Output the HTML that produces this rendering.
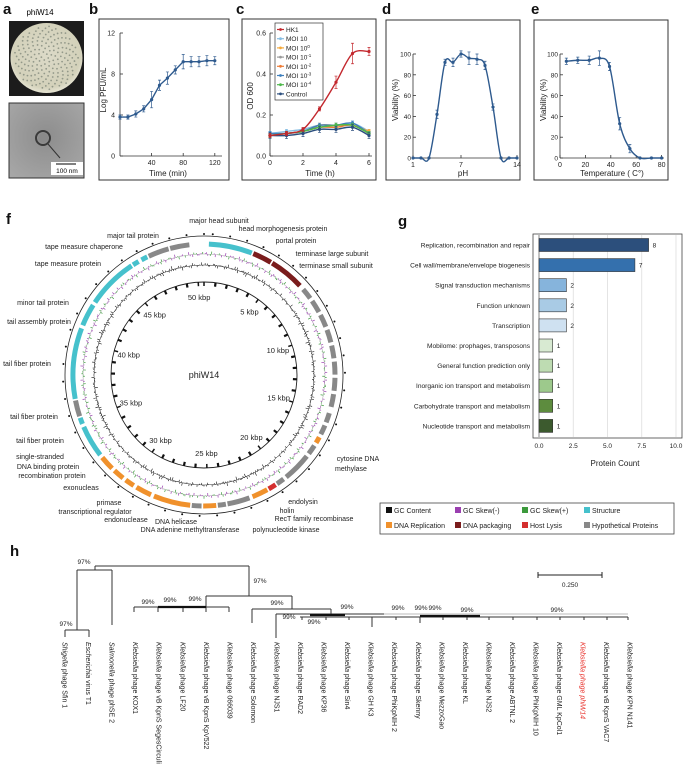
<!DOCTYPE html>
<html><head><meta charset="utf-8">
<style>
html,body{margin:0;padding:0;background:#fff;}
svg{display:block;font-family:"Liberation Sans",sans-serif;}
</style></head>
<body>
<svg id="fig" width="683" height="773" viewBox="0 0 683 773" xmlns="http://www.w3.org/2000/svg">
  <g font-weight="bold" font-size="15" fill="#111">
    <text x="3" y="14">a</text>
    <text x="89" y="14">b</text>
    <text x="236" y="14">c</text>
    <text x="382" y="14">d</text>
    <text x="531" y="14">e</text>
    <text x="6" y="224">f</text>
    <text x="398" y="226">g</text>
    <text x="10" y="556">h</text>
  </g>
  <text x="40" y="15" font-size="8" text-anchor="middle">phiW14</text>
  <g>
    <defs>
      <radialGradient id="plate" cx="50%" cy="45%" r="55%">
        <stop offset="0" stop-color="#dcdac8"/><stop offset="0.85" stop-color="#d3d1ba"/><stop offset="1" stop-color="#e6e4d2"/>
      </radialGradient>
      <radialGradient id="tem" cx="50%" cy="45%" r="70%">
        <stop offset="0" stop-color="#8d8d8d"/><stop offset="1" stop-color="#a7a7a7"/>
      </radialGradient>
    </defs>
    <rect x="9" y="21" width="75" height="75" fill="#1c1c1c"/>
    <ellipse cx="46.5" cy="58" rx="36" ry="35" fill="url(#plate)"/>
    <g id="plaques" fill="#7d8578" opacity="0.75"></g>
  </g>
  <g>
    <rect x="9" y="103" width="75" height="75" fill="url(#tem)" stroke="#333" stroke-width="1"/>
    <circle cx="43" cy="138" r="7" fill="none" stroke="#3a3a3a" stroke-width="2"/>
    <circle cx="43" cy="138" r="5" fill="#8a8a8a"/>
    <path d="M48 144 L60 158" stroke="#333" stroke-width="1"/>
    <rect x="51" y="162" width="32" height="13" fill="#fff"/>
    <line x1="56" y1="164" x2="76" y2="164" stroke="#000" stroke-width="1"/>
    <text x="67" y="173" font-size="6.5" text-anchor="middle">100 nm</text>
  </g>
  <rect x="99" y="19" width="130" height="161" fill="none" stroke="#333" stroke-width="1"/>
  <rect x="242" y="19" width="134" height="161" fill="none" stroke="#333" stroke-width="1"/>
  <rect x="386" y="20" width="134" height="160" fill="none" stroke="#333" stroke-width="1"/>
  <rect x="534" y="20" width="134" height="160" fill="none" stroke="#333" stroke-width="1"/>
  <g id="charts"></g>
  <g id="genome"></g>
  <g id="bars"></g>
  <g id="legendF"></g>
  <g id="tree"></g>
</svg>
<script>
const NS="http://www.w3.org/2000/svg";
function mk(tag,attrs,parent,name,inter){
  const el=document.createElementNS(NS,tag);
  for(const k in attrs) el.setAttribute(k,attrs[k]);
  
  
  (parent||document.getElementById('fig')).appendChild(el);
  return el;
}
function txt(x,y,s,size,anchor,parent,name,extra){
  const a={x:x,y:y,'font-size':size,'text-anchor':anchor||'start',fill:'#222'};
  if(extra) for(const k in extra) a[k]=extra[k];
  const t=mk('text',a,parent,name,false); t.textContent=s; return t;
}
(function(){const g=document.getElementById('plaques');
 for(let i=0;i<170;i++){const a=i*2.399,r=32*Math.sqrt((i+0.5)/170);
  mk('circle',{cx:46.5+r*Math.cos(a),cy:58+r*Math.sin(a),r:0.9},g,'plaque',false);}})();

/* ---------- Panel b data ---------- */
const bTimes=[0,10,20,30,40,50,60,70,80,90,100,110,120];
const bLogPfu=[3.8,3.8,4.1,4.6,5.5,6.9,7.6,8.4,9.2,9.2,9.2,9.3,9.3];
const bErr=[0.2,0.2,0.3,0.3,0.8,0.5,0.6,0.4,0.7,0.5,0.5,0.5,0.4];
const bYTicks=[0,4,8,12];
const bXTicks=[40,80,120];
/* ---------- Panel c data ---------- */
const cTimes=[0,1,2,3,4,5,6];
const cSeriesNames=["HK1","MOI 10","MOI 10^0","MOI 10^-1","MOI 10^-2","MOI 10^-3","MOI 10^-4","Control"];
const cHK1=[0.10,0.11,0.13,0.23,0.36,0.50,0.51];
const cMOI10=[0.11,0.12,0.13,0.15,0.15,0.16,0.12];
const cMOI1=[0.10,0.11,0.12,0.15,0.15,0.15,0.12];
const cMOI01=[0.10,0.11,0.12,0.14,0.15,0.15,0.11];
const cMOI001=[0.10,0.11,0.12,0.14,0.14,0.15,0.11];
const cMOI0001=[0.11,0.11,0.12,0.15,0.15,0.16,0.11];
const cMOI00001=[0.10,0.11,0.12,0.14,0.15,0.15,0.11];
const cControl=[0.10,0.10,0.11,0.13,0.13,0.14,0.10];
const cYTicks=[0.0,0.2,0.4,0.6];
const cXTicks=[0,2,4,6];
/* ---------- Panel d data ---------- */
const dPH=[1,2,3,4,5,6,7,8,9,10,11,12,13,14];
const dViability=[0,0,0,42,92,92,100,96,95,89,49,0,0,0];
const dErr=[0,0,0,4,3,4,3,6,5,4,3,0,0,0];
const dYTicks=[0,20,40,60,80,100];
const dXTicks=[1,7,14];
/* ---------- Panel e data ---------- */
const eTemp=[5,14,23,31,39,47,55,63,72,80];
const eViability=[93,94,94,96,88,33,9,0,0,0];
const eErr=[3,3,4,7,4,6,4,0,0,0];
const eYTicks=[0,20,40,60,80,100];
const eXTicks=[0,20,40,60,80];
/* ---------- Panel g data ---------- */
const gCategories=["Replication, recombination and repair","Cell wall/membrane/envelope biogenesis","Signal transduction mechanisms","Function unknown","Transcription","Mobilome: prophages, transposons","General function prediction only","Inorganic ion transport and metabolism","Carbohydrate transport and metabolism","Nucleotide transport and metabolism"];
const gCounts=[8,7,2,2,2,1,1,1,1,1];
const gXTicks=[0,2.5,5,7.5,10];

const charts=document.getElementById('charts');
const BLUE="#2e5a8e";
function smoothPath(pts){
  let d="M"+pts[0][0]+","+pts[0][1];
  for(let i=0;i<pts.length-1;i++){
    const p0=pts[Math.max(0,i-1)],p1=pts[i],p2=pts[i+1],p3=pts[Math.min(pts.length-1,i+2)];
    const c1=[p1[0]+(p2[0]-p0[0])/6,p1[1]+(p2[1]-p0[1])/6];
    const c2=[p2[0]-(p3[0]-p1[0])/6,p2[1]-(p3[1]-p1[1])/6];
    d+=" C"+c1[0]+","+c1[1]+" "+c2[0]+","+c2[1]+" "+p2[0]+","+p2[1];
  }
  return d;
}
function axisFrame(xl,xr,yb,yt,ax){
  mk('line',{x1:xl,y1:yb,x2:xr,y2:yb,stroke:'#333','stroke-width':0.8},charts,'x-axis-line',false);
  mk('line',{x1:ax,y1:yb,x2:ax,y2:yt,stroke:'#333','stroke-width':0.8},charts,'y-axis-line',false);
}
function series(xs,ys,errs,sx,sy,color,name,smooth){
  const pts=xs.map((x,i)=>[sx(x),sy(ys[i])]);
  mk('path',{d:smooth?smoothPath(pts):'M'+pts.map(p=>p.join(',')).join(' L'),fill:'none',stroke:color,'stroke-width':1.4},charts,name+'-line',false);
  pts.forEach((p,i)=>{
    if(errs&&errs[i]>0){
      const e=Math.abs(sy(ys[i]+errs[i])-sy(ys[i]));
      mk('path',{d:`M${p[0]},${p[1]-e}V${p[1]+e}M${p[0]-1.5},${p[1]-e}h3M${p[0]-1.5},${p[1]+e}h3`,stroke:color,'stroke-width':0.7,fill:'none'},charts,name+'-error-bar',false);
    }
    mk('circle',{cx:p[0],cy:p[1],r:1.6,fill:color},charts,name+'-point',false);
  });
}
/* Panel b */
(function(){
  const sx=t=>120+0.79*t, sy=v=>156-10.25*v;
  axisFrame(120,222,sy(0),sy(12),120);
  bYTicks.forEach(v=>{mk('line',{x1:120,y1:sy(v),x2:123,y2:sy(v),stroke:'#333','stroke-width':0.8},charts,'y-tick',false);
    txt(115,sy(v)+2.5,String(v),7,'end',charts,'y-tick-label');});
  bXTicks.forEach(v=>{mk('line',{x1:sx(v),y1:sy(0),x2:sx(v),y2:sy(0)-3,stroke:'#333','stroke-width':0.8},charts,'x-tick',false);
    txt(sx(v),sy(0)+9,String(v),7,'middle',charts,'x-tick-label');});
  txt(168,176,'Time (min)',8,'middle',charts,'x-axis-title');
  txt(0,0,'Log PFU/mL',8,'middle',charts,'y-axis-title',{transform:'translate(106,90) rotate(-90)'});
  series(bTimes,bLogPfu,bErr,sx,sy,BLUE,'pfu-series',false);
})();
/* Panel c */
(function(){
  const sx=t=>270+16.5*t, sy=v=>156-205*v;
  axisFrame(270,372,sy(0),sy(0.6),270);
  cYTicks.forEach(v=>{mk('line',{x1:270,y1:sy(v),x2:273,y2:sy(v),stroke:'#333','stroke-width':0.8},charts,'y-tick',false);
    txt(266,sy(v)+2.5,v.toFixed(1),7,'end',charts,'y-tick-label');});
  cXTicks.forEach(v=>{mk('line',{x1:sx(v),y1:sy(0),x2:sx(v),y2:sy(0)-3,stroke:'#333','stroke-width':0.8},charts,'x-tick',false);
    txt(sx(v),sy(0)+9,String(v),7,'middle',charts,'x-tick-label');});
  txt(320,176,'Time (h)',8,'middle',charts,'x-axis-title');
  txt(0,0,'OD 600',8,'middle',charts,'y-axis-title',{transform:'translate(253,96) rotate(-90)'});
  const data=[cHK1,cMOI10,cMOI1,cMOI01,cMOI001,cMOI0001,cMOI00001,cControl];
  const colors=["#c3282e","#86bde3","#f5a93a","#9a9a9a","#ef7b35","#3d7fbd","#4db84a","#2b4e7e"];
  const cErr=[0.02,0.01,0.01,0.01,0.01,0.01,0.01,0.015];
  for(let s=1;s<data.length;s++) series(cTimes,data[s],data[s].map(()=>cErr[s]),sx,sy,colors[s],'od-series-'+s,true);
  series(cTimes,data[0],[0.01,0.01,0.01,0.01,0.03,0.05,0.02],sx,sy,colors[0],'od-series-hk1',true);
  const lg=mk('g',{},charts,'legend-c',false);
  mk('rect',{x:275,y:23,width:48,height:77,fill:'#fff',stroke:'#333','stroke-width':0.7},lg,'legend-c-box',false);
  cSeriesNames.forEach((n,i)=>{
    const y=29.5+i*9.2;
    mk('line',{x1:277,y1:y,x2:284,y2:y,stroke:colors[i],'stroke-width':1.2},lg,'legend-entry-line',false);
    mk('circle',{cx:280.5,cy:y,r:1.4,fill:colors[i]},lg,'legend-entry-marker',false);
    const t=txt(286,y+2.5,'',6.5,'start',lg,'legend-entry');
    const m=n.match(/^(MOI 10)\^(.+)$/);
    if(m){t.textContent=m[1];const sp=document.createElementNS(NS,'tspan');sp.setAttribute('dy','-2.5');sp.setAttribute('font-size','4.5');sp.textContent=m[2];t.appendChild(sp);}
    else t.textContent=n;
  });
})();
/* Panel d */
(function(){
  const sx=p=>413+(p-1)*8.0, sy=v=>158-1.04*v;
  axisFrame(413,517,sy(0),sy(100),413);
  dYTicks.forEach(v=>{mk('line',{x1:413,y1:sy(v),x2:416,y2:sy(v),stroke:'#333','stroke-width':0.8},charts,'y-tick',false);
    txt(411,sy(v)+2.5,String(v),6.5,'end',charts,'y-tick-label');});
  dXTicks.forEach(v=>{mk('line',{x1:sx(v),y1:sy(0),x2:sx(v),y2:sy(0)-3,stroke:'#333','stroke-width':0.8},charts,'x-tick',false);
    txt(sx(v),sy(0)+9,String(v),7,'middle',charts,'x-tick-label');});
  txt(463,176,'pH',8,'middle',charts,'x-axis-title');
  txt(0,0,'Viability (%)',8,'middle',charts,'y-axis-title',{transform:'translate(398,100) rotate(-90)'});
  series(dPH,dViability,dErr,sx,sy,BLUE,'ph-series',true);
})();
/* Panel e */
(function(){
  const sx=t=>560+1.27*t, sy=v=>158-1.04*v;
  axisFrame(560,664,sy(0),sy(100),560);
  eYTicks.forEach(v=>{mk('line',{x1:560,y1:sy(v),x2:563,y2:sy(v),stroke:'#333','stroke-width':0.8},charts,'y-tick',false);
    txt(558,sy(v)+2.5,String(v),6.5,'end',charts,'y-tick-label');});
  eXTicks.forEach(v=>{mk('line',{x1:sx(v),y1:sy(0),x2:sx(v),y2:sy(0)-3,stroke:'#333','stroke-width':0.8},charts,'x-tick',false);
    txt(sx(v),sy(0)+9,String(v),7,'middle',charts,'x-tick-label');});
  txt(612,176,'Temperature ( C\u00B0)',8,'middle',charts,'x-axis-title');
  txt(0,0,'Viability (%)',8,'middle',charts,'y-axis-title',{transform:'translate(546,100) rotate(-90)'});
  series(eTemp,eViability,eErr,sx,sy,BLUE,'temp-series',true);
})();

/* ---------- Panel f: circular genome ---------- */
const genomeLenKb=50.5;
const geneSegments=[
 [0.3,3.0,"#46c1cc"],[3.1,4.3,"#7a1c1c"],[4.4,6.6,"#7a1c1c"],
 [6.9,7.6,"#888"],[7.8,8.6,"#888"],[8.8,9.6,"#888"],[9.8,10.6,"#888"],[10.8,11.6,"#888"],[11.8,12.6,"#888"],[12.8,13.6,"#888"],[13.8,14.6,"#888"],[15.0,15.6,"#888"],[15.8,16.4,"#888"],[16.6,17.0,"#f0912c"],[17.2,17.8,"#888"],[18.0,19.8,"#888"],[20.0,20.5,"#888"],[20.6,21.1,"#d42f2f"],[21.2,22.2,"#f0912c"],[22.4,23.8,"#888"],[23.9,24.4,"#888"],[24.5,25.3,"#f0912c"],[25.4,26.0,"#888"],
 [26.1,28.4,"#f0912c"],[28.6,29.6,"#f0912c"],[29.8,30.4,"#f0912c"],[30.6,31.3,"#f0912c"],[31.5,32.4,"#f0912c"],
 [32.6,34.6,"#46c1cc"],[34.8,35.2,"#46c1cc"],[35.3,36.3,"#888"],[36.4,40.8,"#46c1cc"],[41.0,42.4,"#46c1cc"],[42.6,45.8,"#46c1cc"],[45.9,46.3,"#46c1cc"],[46.5,46.9,"#46c1cc"],[47.0,48.3,"#888"],[48.4,49.6,"#888"]
];
const kbpLabels=[5,10,15,20,25,30,35,40,45,50];
(function(){
  const g=document.getElementById('genome');
  const cx=204,cy=375;
  const ang=kb=>kb/genomeLenKb*2*Math.PI;
  const pt=(kb,r)=>[cx+r*Math.sin(ang(kb)),cy-r*Math.cos(ang(kb))];
  mk('circle',{cx:cx,cy:cy,r:139,fill:'none',stroke:'#222','stroke-width':0.8},g,'genome-outer-circle',false);
  mk('circle',{cx:cx,cy:cy,r:93,fill:'none',stroke:'#222','stroke-width':0.9},g,'genome-inner-circle',false);
  for(let k=0;k<genomeLenKb;k+=1){
    const [x1,y1]=pt(k,93),[x2,y2]=pt(k,89);
    mk('line',{x1:x1,y1:y1,x2:x2,y2:y2,stroke:'#111','stroke-width':k%5===0?1.5:2.2},g,'kbp-tick',false);
    const [ox,oy]=pt(k+0.5,141);
    mk('circle',{cx:ox,cy:oy,r:1,fill:'#111'},g,'outer-tick',false);
  }
  kbpLabels.forEach(k=>{const [x,y]=pt(k,78);txt(x,y+3,k+' kbp',7.5,'middle',g,'kbp-label');});
  txt(cx,cy+3,'phiW14',9,'middle',g,'genome-name');
  geneSegments.forEach(s=>{
    const [x1,y1]=pt(s[0],131),[x2,y2]=pt(s[1],131);
    const large=(s[1]-s[0])/genomeLenKb>0.5?1:0;
    mk('path',{d:`M${x1},${y1} A131,131 0 ${large} 1 ${x2},${y2}`,fill:'none',stroke:s[2],'stroke-width':5},g,'gene-arc',false);
  });
  let dk='',dp='',dgr='';
  for(let i=0;i<600;i++){
    const kb=i/600*genomeLenKb;
    const v=Math.sin(i*1.7)*Math.cos(i*0.73)+0.5*Math.sin(i*3.1);
    const [a,b]=pt(kb,110),[c,d]=pt(kb,110+v*2.5);
    dk+=`M${a},${b}L${c},${d}`;
    const sk=Math.sin(i*2.3)*Math.cos(i*1.1)*3;
    const [e,f]=pt(kb,121),[h,j]=pt(kb,121+sk);
    if((i%7<4)^(kb>26&&kb<38)) dp+=`M${e},${f}L${h},${j}`; else dgr+=`M${e},${f}L${h},${j}`;
  }
  mk('circle',{cx:cx,cy:cy,r:110,fill:'none',stroke:'#333','stroke-width':0.5},g,'gc-content-baseline',false);
  mk('path',{d:dk,stroke:'#111','stroke-width':0.6},g,'gc-content-track',false);
  mk('circle',{cx:cx,cy:cy,r:121,fill:'none',stroke:'#999','stroke-width':0.4},g,'gc-skew-baseline',false);
  mk('path',{d:dp,stroke:'#9a3fb0','stroke-width':0.7},g,'gc-skew-negative-track',false);
  mk('path',{d:dgr,stroke:'#3c9a3c','stroke-width':0.7},g,'gc-skew-positive-track',false);
  const labels=[
   ["major head subunit",219,223,'middle'],["head morphogenesis protein",283,231,'middle'],["portal protein",296,243,'middle'],
   ["terminase large subunit",332,256,'middle'],["terminase small subunit",336,268,'middle'],["major tail protein",133,238,'middle'],
   ["tape measure chaperone",84,249,'middle'],["tape measure protein",68,266,'middle'],["minor tail protein",43,305,'middle'],
   ["tail assembly protein",39,324,'middle'],["tail fiber protein",27,366,'middle'],["tail fiber protein",34,419,'middle'],
   ["tail fiber protein",40,443,'middle'],["single-stranded",40,459,'middle'],["DNA binding protein",48,469,'middle'],
   ["recombination protein",52,478,'middle'],["exonucleas",81,490,'middle'],["primase",109,505,'middle'],
   ["transcriptional regulator",95,514,'middle'],["endonuclease",126,522,'middle'],["DNA helicase",176,524,'middle'],
   ["DNA adenine methyltransferase",190,532,'middle'],["polynucleotide kinase",286,532,'middle'],["RecT family recombinase",314,521,'middle'],
   ["holin",287,513,'middle'],["endolysin",303,504,'middle'],["cytosine DNA",358,461,'middle'],["methylase",351,471,'middle']];
  labels.forEach(l=>txt(l[1],l[2],l[0],7,l[3],g,'gene-label'));
})();

/* ---------- Panel g ---------- */
(function(){
  const g=document.getElementById('bars');
  const sx=v=>539+13.7*v, rowY=i=>245+i*20.1;
  mk('rect',{x:533,y:234,width:149,height:204,fill:'#fff',stroke:'#444','stroke-width':0.8},g,'bar-plot-frame',false);
  gXTicks.forEach(v=>{ if(v>0) mk('line',{x1:sx(v),y1:235,x2:sx(v),y2:437,stroke:'#ddd','stroke-width':0.8},g,'grid-line',false);
    txt(sx(v),448,v.toFixed(1),6.5,'middle',g,'x-tick-label');});
  mk('line',{x1:sx(0),y1:235,x2:sx(0),y2:437,stroke:'#666','stroke-width':0.8},g,'zero-line',false);
  const cols=["#2c4f7c","#3470ad","#86b4dc","#a9cbe5","#cfe1f1","#d8ead2","#bedcb2","#9dc98c","#5d8c3e","#3c5a2e"];
  gCategories.forEach((c,i)=>{
    const y=rowY(i);
    mk('rect',{x:sx(0),y:y-6.5,width:sx(gCounts[i])-sx(0),height:13,fill:cols[i],stroke:'#333','stroke-width':0.6},g,'bar-'+i,false);
    txt(sx(gCounts[i])+4,y+2.5,String(gCounts[i]),6.5,'start',g,'bar-value-label');
    txt(530,y+2.5,c,6.6,'end',g,'category-label');
  });
  txt(615,466,'Protein Count',8,'middle',g,'x-axis-title');
})();

/* ---------- Legend f ---------- */
const legendItems=[["GC Content","#111"],["GC Skew(-)","#9a3fb0"],["GC Skew(+)","#3c9a3c"],["Structure","#46c1cc"],["DNA Replication","#f0912c"],["DNA packaging","#7a1c1c"],["Host Lysis","#d42f2f"],["Hypothetical Proteins","#888"]];
(function(){
  const g=document.getElementById('legendF');
  mk('rect',{x:380,y:503,width:294,height:31,fill:'#fff',stroke:'#444','stroke-width':0.8},g,'genome-legend-box',false);
  const xs=[386,455,522,584];
  legendItems.forEach((it,i)=>{
    const x=xs[i%4],y=i<4?511:526;
    mk('rect',{x:x,y:y-4,width:6,height:6,fill:it[1]},g,'legend-swatch',false);
    txt(x+8,y+2,it[0],7,'start',g,'legend-entry');
  });
})();

/* ---------- Panel h tree ---------- */
const treeLeaves=["Shigella phage Sfin 1","Escherichia virus T1","Salmonella phage phSE 2","Klebsiella phage KOX1","Klebsiella phage vB KpnS SegesCirculi","Klebsiella phage LF20","Klebsiella phage vB KpnS KpV522","Klebsiella phage 066039","Klebsiella phage Solomon","Klebsiella phage NJS1","Klebsiella phage RAD2","Klebsiella phage KP36","Klebsiella phage Sin4","Klebsiella phage GH K3","Klebsiella phage PhiKpNIH 2","Klebsiella phage Skenny","Klebsiella phage MezzoGao","Klebsiella phage KL","Klebsiella phage NJS2","Klebsiella phage ABTNL 2","Klebsiella phage PhiKpNIH 10","Klebsiella phage GML KpCol1","Klebsiella phage phiW14","Klebsiella phage vB KpnS VAC7","Klebsiella phage KPN N141"];
const bootstrapLabels=["97%","97%","97%","99%","99%","99%","99%","99%","99%","99%","99%","99%","99%","99%","99%"];
(function(){
  const g=document.getElementById('tree');
  const lx=i=>65+i*23.55;
  const S={stroke:'#333','stroke-width':1,fill:'none'};
  const segs=[
   "M95,566H249","M95,566V570","M77,570H112","M77,570V630","M112,570V625","M65,630H89","M65,630V637","M89,630V637",
   "M249,566V596","M206,596H292","M206,596V607","M134,607H229","M134,607V612","M158,607V612","M183,607V612","M206,607V612","M229,607V612",
   "M292,596V609","M252,609H331","M252,609V623","M331,609V614","M276,614H384","M276,614V638",
   "M300,617H628","M302,617V620","M326,617V620","M349,617V620","M372,617V627","M396,617V620","M420,617V623","M443,617V620","M467,617V620","M489,617V620","M513,617V620","M537,617V620","M560,617V620","M584,617V620","M607,617V620","M628,617V620"];
  segs.forEach(d=>mk('path',Object.assign({d:d},S),g,'tree-branch',false));
  mk('path',{d:"M158,607H206 M310,615H345 M420,616H480",stroke:'#111','stroke-width':2.2,fill:'none'},g,'tree-thick-branch',false);
  mk('path',{d:"M384,614H628",stroke:'#bbb','stroke-width':1,fill:'none'},g,'tree-branch-grey',false);
  const bpos=[[84,564],[260,583],[66,626],[148,604],[170,602],[195,601],[277,605],[289,619],[314,624],[347,609],[398,610],[421,610],[435,610],[467,612],[557,612]];
  bpos.forEach((p,i)=>txt(p[0],p[1],bootstrapLabels[i],6.5,'middle',g,'bootstrap-label'));
  mk('path',{d:"M538,575H602M538,572V578M602,572V578",stroke:'#222','stroke-width':1,fill:'none'},g,'tree-scale-bar',false);
  txt(570,587,'0.250',6.5,'middle',g,'tree-scale-label');
  treeLeaves.forEach((n,i)=>{
    const x=lx(i);
    const t=txt(0,0,'',7,'start',g,'leaf-label',{transform:`translate(${x-2.5},642) rotate(90)`});
    if(i===22) t.setAttribute('fill','#e8302a');
    const sp=n.indexOf(' ');
    const a=document.createElementNS(NS,'tspan');a.setAttribute('font-style','italic');a.textContent=n.slice(0,sp);
    t.appendChild(a);
    const b=document.createElementNS(NS,'tspan');b.textContent=n.slice(sp);
    if(i===22) b.setAttribute('font-style','italic');
    t.appendChild(b);
  });
})();
</script>
</body></html>
